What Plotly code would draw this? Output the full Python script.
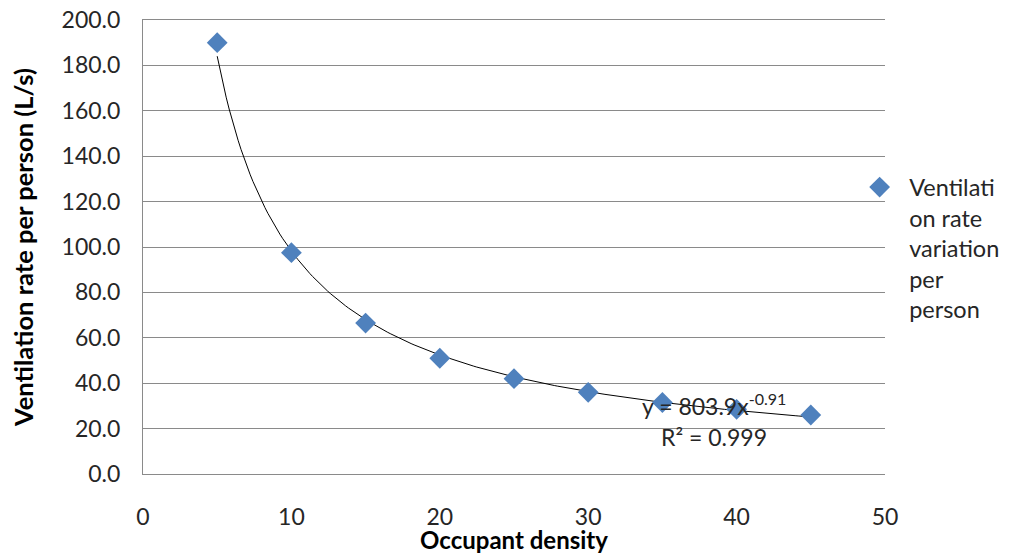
import numpy as np
import plotly.graph_objects as go

occupant_density = [5, 10, 15, 20, 25, 30, 35, 40, 45]
ventilation_rate = [190.0, 97.5, 66.5, 51.0, 42.0, 36.0, 31.5, 28.5, 26.0]
series_name = "Ventilati<br>on rate<br>variation<br>per<br>person"
x_ticks = [0, 10, 20, 30, 40, 50]
y_ticks = [0, 20, 40, 60, 80, 100, 120, 140, 160, 180, 200]

# Power trendline fitted to the data (as the spreadsheet does)
lx = np.log(occupant_density)
ly = np.log(ventilation_rate)
b, ln_a = np.polyfit(lx, ly, 1)
a = np.exp(ln_a)
xs = np.linspace(min(occupant_density), max(occupant_density), 200)
ys = a * xs ** b

font_family = "Lato, 'Open Sans', sans-serif"
txt = "#262626"
grid = "#8a8a8a"

fig = go.Figure()
fig.add_trace(go.Scatter(x=xs, y=ys, mode="lines", line=dict(color="black", width=1),
                         showlegend=False, hoverinfo="skip"))
fig.add_trace(go.Scatter(x=occupant_density, y=ventilation_rate, mode="markers",
                         name=series_name,
                         marker=dict(symbol="diamond", size=16, color="#4F81BD",
                                     line=dict(width=0))))

fig.add_annotation(x=38.5, y=30.6, xref="x", yref="y", text="y = 803.9x<sup>-0.91</sup>",
                   showarrow=False, font=dict(family=font_family, size=23, color=txt))
fig.add_annotation(x=38.5, y=16.3, xref="x", yref="y", text="R² = 0.999",
                   showarrow=False, font=dict(family=font_family, size=23, color=txt))

fig.update_layout(
    width=1002, height=546,
    margin=dict(l=135, r=125, t=12, b=80, autoexpand=False),
    plot_bgcolor="white", paper_bgcolor="white",
    font=dict(family=font_family, size=23, color=txt),
    legend=dict(x=0.953, y=0.68, xanchor="left", yanchor="top", valign="top",
                font=dict(family=font_family, size=23.5, color=txt),
                itemwidth=49, tracegroupgap=0, bgcolor="rgba(0,0,0,0)"),
    showlegend=True,
)
fig.update_xaxes(range=[0, 50], tickvals=x_ticks, showgrid=False, automargin=False,
                 showline=True, linecolor=grid, linewidth=1, zeroline=False, mirror=True,
                 ticks="", ticklabelstandoff=22, ticklabeloverflow="allow",
                 title=dict(text="<b>Occupant density</b>", standoff=0,
                            font=dict(family=font_family, size=24, color="black")))
fig.update_yaxes(range=[0, 200], tickvals=y_ticks, tickformat=".1f", automargin=False,
                 showgrid=True, gridcolor=grid, gridwidth=1,
                 showline=True, linecolor=grid, linewidth=1, zeroline=False,
                 ticks="", ticklabelstandoff=17, ticklabeloverflow="allow",
                 title=dict(text="<b>Ventilation rate per person (L/s)</b>", standoff=25,
                            font=dict(family=font_family, size=25.5, color="black")))

fig.write_html("out.html")
